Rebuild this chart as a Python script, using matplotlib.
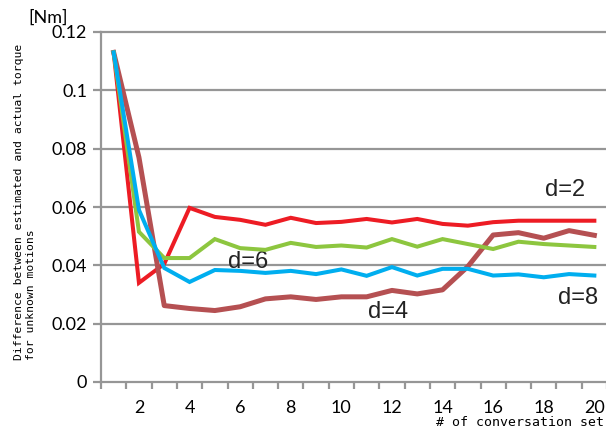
import matplotlib
matplotlib.use("Agg")
import matplotlib.pyplot as plt
from matplotlib import font_manager

conversation_sets = list(range(1, 21))

d2 = [0.113, 0.034, 0.0405, 0.0597, 0.0566, 0.0556, 0.0539, 0.0563, 0.0545, 0.0549,
      0.0559, 0.0547, 0.0559, 0.0542, 0.0536, 0.0548, 0.0553, 0.0553, 0.0553, 0.0553]
d4 = [0.113, 0.077, 0.0262, 0.0252, 0.0245, 0.0258, 0.0285, 0.0292, 0.0283, 0.0292,
      0.0292, 0.0314, 0.0302, 0.0316, 0.0396, 0.0504, 0.0512, 0.0493, 0.0519, 0.0503]
d6 = [0.113, 0.0515, 0.0425, 0.0425, 0.0490, 0.0459, 0.0453, 0.0477, 0.0463, 0.0468,
      0.0461, 0.0490, 0.0464, 0.0490, 0.0473, 0.0456, 0.0481, 0.0473, 0.0468, 0.0463]
d8 = [0.113, 0.059, 0.0391, 0.0343, 0.0384, 0.0381, 0.0374, 0.0381, 0.0370, 0.0386,
      0.0364, 0.0394, 0.0365, 0.0388, 0.0388, 0.0365, 0.0369, 0.0359, 0.0370, 0.0365]

y_ticks = [0, 0.02, 0.04, 0.06, 0.08, 0.1, 0.12]
y_tick_labels = ["0", "0.02", "0.04", "0.06", "0.08", "0.1", "0.12"]
x_tick_values = [2, 4, 6, 8, 10, 12, 14, 16, 18, 20]

available = {f.name for f in font_manager.fontManager.ttflist}
narrow = "Liberation Sans Narrow" if "Liberation Sans Narrow" in available else "Liberation Sans"
tick_font = "Lato" if "Lato" in available else "DejaVu Sans"
mono = "DejaVu Sans Mono"

grid_color = "#969696"

fig = plt.figure(figsize=(6.06, 4.28), dpi=100)
ax = fig.add_axes([101 / 606, 1 - 382 / 428, 506 / 606, 350 / 428])

ax.set_xlim(0.5, 20.5)
ax.set_ylim(0, 0.12)

for yv in y_ticks[1:]:
    ax.axhline(yv, color=grid_color, lw=1.6, zorder=1, clip_on=False)

ax.plot(conversation_sets, d2, color="#ed1c24", lw=2.9, zorder=4, solid_joinstyle="miter")
ax.plot(conversation_sets, d4, color="#b55052", lw=3.6, zorder=4, solid_joinstyle="round")
ax.plot(conversation_sets, d6, color="#8dc63f", lw=2.9, zorder=4, solid_joinstyle="miter")
ax.plot(conversation_sets, d8, color="#00aeef", lw=2.9, zorder=4, solid_joinstyle="miter")

label_kw = dict(fontsize=17, family=narrow, color="#222222", ha="center", va="center", zorder=2)
ax.text(18.84, 0.0658, "d=2", **label_kw)
ax.text(6.31, 0.0412, "d=6", **label_kw)
ax.text(11.84, 0.0240, "d=4", **label_kw)
ax.text(19.35, 0.0288, "d=8", **label_kw)

for side in ("top", "right"):
    ax.spines[side].set_visible(False)
for side in ("left", "bottom"):
    ax.spines[side].set_color(grid_color)
    ax.spines[side].set_linewidth(1.6)

ax.set_yticks(y_ticks)
ax.set_yticklabels(y_tick_labels, family=tick_font, fontsize=13)
ax.tick_params(axis="y", length=6, width=1.6, color=grid_color, pad=4)

ax.set_xticks([i + 0.5 for i in range(0, 21)])
ax.set_xticklabels([])
ax.set_xticks(x_tick_values, minor=True)
ax.set_xticklabels([str(v) for v in x_tick_values], minor=True, family=tick_font, fontsize=13)
ax.tick_params(axis="x", which="major", length=5, width=1.6, color=grid_color)
ax.tick_params(axis="x", which="minor", length=0, pad=13)

fig.text(48 / 606, 1 - 18 / 428, "[Nm]", family=tick_font, fontsize=13, ha="center", va="center")
fig.text(604 / 606, 1 - 422 / 428, "# of conversation set", family=mono, fontsize=9.5,
         ha="right", va="center")
fig.text(25 / 606, 1 - 360 / 428,
         "Difference between estimated and actual torque\nfor unknown motions",
         family=mono, fontsize=8.2, rotation=90, ha="center", va="bottom",
         multialignment="left", linespacing=1.15)

fig.savefig("out.png", dpi=100)
